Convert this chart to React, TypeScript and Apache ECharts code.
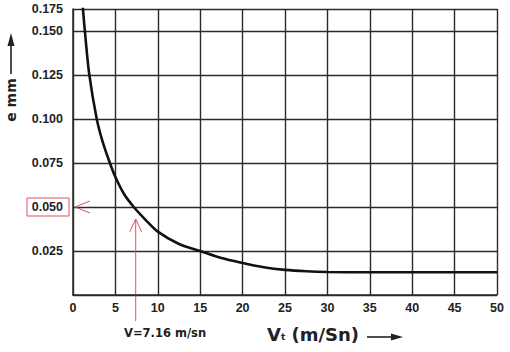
import { useEffect, useRef } from "react";
import * as echarts from "echarts";

const speedV = [1.0, 1.2, 1.4, 1.9, 2.8, 3.5, 4.35, 5.0, 6.0, 7.16, 8.5, 10, 12.5, 15, 17.5, 20, 22.5, 25, 27.5, 30, 35, 40, 45, 50];
const thicknessE = [0.173, 0.161, 0.15, 0.126, 0.1, 0.087, 0.075, 0.067, 0.0575, 0.05, 0.043, 0.036, 0.029, 0.025, 0.021, 0.0182, 0.0158, 0.0143, 0.0135, 0.0131, 0.0129, 0.0129, 0.0129, 0.0129];
const topTickLabel = "0.175";
const markSpeed = 7.16;
const markThickness = 0.05;
const markText = "V=7.16 m/sn";

const RED = "#e2505f";
const GRID = "#2b2b2b";

export default function App() {
  const ref = useRef<HTMLDivElement>(null);
  useEffect(() => {
    const chart = echarts.init(ref.current!, null, { renderer: "svg" });
    const data = speedV.map((v, i) => [v, thicknessE[i]]);
    chart.setOption({
      animation: false,
      backgroundColor: "#ffffff",
      grid: { left: 73, right: 13, top: 9, bottom: 57 },
      xAxis: {
        type: "value",
        min: 0,
        max: 50,
        interval: 5,
        axisLine: { show: true, lineStyle: { color: GRID, width: 1.5 } },
        axisTick: { show: false },
        splitLine: { show: true, lineStyle: { color: GRID, width: 1.4 } },
        axisLabel: {
          color: "#222",
          fontFamily: "Liberation Sans",
          fontWeight: "bold",
          fontSize: 12.5,
          margin: 6,
        },
      },
      yAxis: {
        type: "value",
        min: 0,
        max: 0.1625,
        interval: 0.025,
        axisLine: { show: true, lineStyle: { color: GRID, width: 1.5 } },
        axisTick: { show: false },
        splitLine: { show: true, lineStyle: { color: GRID, width: 1.4 } },
        axisLabel: {
          showMinLabel: false,
          color: "#222",
          fontFamily: "Liberation Sans",
          fontWeight: "bold",
          fontSize: 12.5,
          margin: 10,
          formatter: (v: number) => (v > 0.151 ? topTickLabel : v.toFixed(3)),
        },
      },
      series: [
        {
          type: "line",
          data,
          smooth: 0.3,
          symbol: "none",
          clip: true,
          lineStyle: { color: "#111", width: 2.6 },
        },
      ],
    });

    const [px, py] = chart.convertToPixel({ gridIndex: 0 }, [markSpeed, markThickness]) as number[];
    const [ax] = chart.convertToPixel({ gridIndex: 0 }, [0, 0]) as number[];

    chart.setOption({
      graphic: [
        // y axis title
        {
          type: "text",
          x: 11,
          y: 100,
          rotation: Math.PI / 2,
          style: {
            text: "e mm",
            fontFamily: "DejaVu Sans",
            fontWeight: "bold",
            fontSize: 14,
            fill: "#222",
            align: "center",
            verticalAlign: "middle",
          },
        },
        { type: "line", shape: { x1: 11, y1: 74, x2: 11, y2: 42 }, style: { stroke: "#222", lineWidth: 1.6 } },
        { type: "polygon", shape: { points: [[11, 33], [7.5, 46], [14.5, 46]] }, style: { fill: "#222" } },
        // x axis title
        {
          type: "text",
          x: 267,
          y: 334,
          style: {
            text: "{v|V}{s|t}{v| (m/Sn)}",
            verticalAlign: "middle",
            rich: {
              v: { fontFamily: "DejaVu Sans", fontWeight: "bold", fontSize: 18, fill: "#222" },
              s: { fontFamily: "DejaVu Sans", fontWeight: "bold", fontSize: 9, fill: "#222", padding: [6, 0, 0, 0] },
            },
          },
        },
        { type: "line", shape: { x1: 367, y1: 337, x2: 394, y2: 337 }, style: { stroke: "#222", lineWidth: 1.6 } },
        { type: "polygon", shape: { points: [[403, 337], [391, 333.5], [391, 340.5]] }, style: { fill: "#222" } },
        // red box around 0.050
        {
          type: "rect",
          shape: { x: ax - 46, y: py - 9, width: 42, height: 18 },
          style: { fill: "none", stroke: RED, lineWidth: 1 },
        },
        // left-pointing red arrowhead
        {
          type: "polyline",
          shape: { points: [[ax + 17, py - 6], [ax + 2, py], [ax + 17, py + 6]] },
          style: { stroke: RED, lineWidth: 1, fill: "none" },
        },
        // vertical red arrow
        {
          type: "line",
          shape: { x1: px + 2, y1: py + 12, x2: px + 2, y2: 321 },
          style: { stroke: RED, lineWidth: 1 },
        },
        {
          type: "polyline",
          shape: { points: [[px - 4, py + 25], [px + 2, py + 12], [px + 8, py + 25]] },
          style: { stroke: RED, lineWidth: 1, fill: "none" },
        },
        {
          type: "text",
          x: 124,
          y: 333,
          style: {
            text: markText,
            fontFamily: "DejaVu Sans",
            fontWeight: "bold",
            fontSize: 11.5,
            fill: "#222",
            verticalAlign: "middle",
          },
        },
      ],
    });
    return () => chart.dispose();
  }, []);
  return <div ref={ref} style={{ width: 510, height: 352, position: "absolute", left: 0, top: 0 }} />;
}
